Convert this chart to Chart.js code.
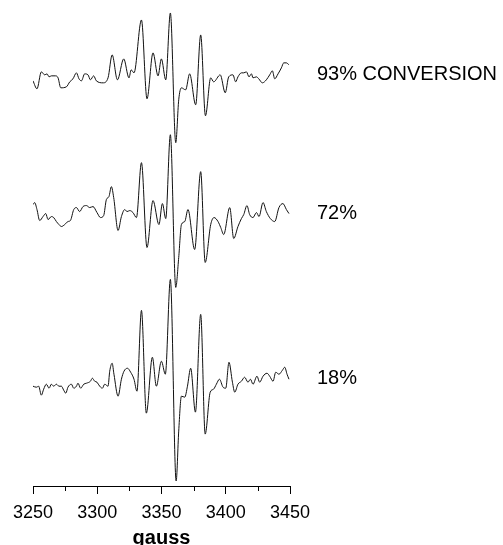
<!DOCTYPE html>
<html>
<head>
<meta charset="utf-8">
<script src="https://cdn.jsdelivr.net/npm/chart.js@4"></script>
<style>
  html, body { margin: 0; padding: 0; background: #fff; overflow: hidden; }
  #wrap { width: 503px; height: 545px; overflow: hidden; }
</style>
</head>
<body>
<div id="wrap"><canvas id="epr" width="503" height="552"></canvas></div>
<script>
// field axis (gauss)
const xTicksMajor = [3250, 3300, 3350, 3400, 3450];
const xTicksMinor = [3275, 3325, 3375, 3425];

// 93% conversion trace
const topGauss = [3250,3253.1,3256.5,3259.1,3260.9,3262.5,3264.3,3267.4,3269.5,3271.6,3276,3278.6,3281.1,3283.8,3285.8,3287.7,3290.2,3292.8,3294.7,3297.2,3299.3,3304.5,3308.4,3311.6,3315.7,3320.6,3324.7,3326.4,3328.6,3334.4,3338.7,3343.4,3347.3,3349.9,3353.3,3356.9,3361.1,3363.4,3365.5,3368.8,3371.9,3376.6,3380.5,3384.2,3388.3,3390.6,3395.7,3399.6,3402.3,3405.6,3407.7,3409.5,3412.2,3414,3416.1,3418.1,3420,3421.2,3423.9,3425.7,3428.5,3431.6,3434.2,3436.3,3438.1,3440.7,3443.3,3445.1,3447.2,3449.2];
const topSignal = [-3,-11,6,3,4,1,2,2,0,-10,-9,-4,-1,5,-1,-3,4,3,-2,2,-3,-5,0,23,-2,19,0,8,5,58,-21,25,2,19,-2,65,-65,-22,-10,-12,4,-27,43,-38,0,-4,3,-15,1,3,-4,1,5,5,6,1,4,0,1,-1,-5,-2,3,7,-1,4,10,15,15,13];

// 72% trace
const midGauss = [3250,3251.3,3253.1,3255.2,3257.8,3259.9,3261.7,3264.3,3266.1,3268.2,3270.2,3272.1,3274.7,3277.2,3279.1,3281.7,3283.8,3286.3,3288.9,3291.6,3294.1,3296.7,3299.8,3302.5,3305,3307.1,3309.1,3311,3312.8,3316.2,3318.8,3321.4,3323.2,3325.3,3327.8,3330.5,3334.4,3338.7,3343.4,3348,3350.7,3353.3,3356.9,3361.1,3363.4,3365.5,3368.1,3370.6,3375.8,3380.5,3384,3388.3,3390.9,3394,3396.1,3398.4,3403.1,3406.2,3409.5,3412.2,3414,3416.5,3418.6,3421.2,3423.9,3425.9,3429,3431.6,3434.7,3438.1,3441.4,3444.5,3447.2,3449.2];
const midSignal = [8,10,3,-8,-4,-1,-7,-4,-5,-9,-12,-14,-12,-9,-8,3,5,1,6,7,5,6,0,-5,-3,13,16,26,15,-18,-4,3,1,2,0,-5,50,-35,12,-12,9,-6,78,-75,-45,-12,-9,3,-37,41,-50,-12,-5,-9,-15,-22,5,-26,-14,-6,-2,7,-2,-5,0,-4,10,1,-6,-9,5,9,3,-1];

// 18% trace
const botGauss = [3250,3252.6,3254.4,3256.5,3258.3,3260.4,3262.5,3264.3,3266.1,3268.2,3270.2,3272.1,3273.9,3275.5,3277.2,3279.9,3281.7,3283.8,3285,3287.1,3289.5,3291.6,3294.7,3296.2,3298,3299.8,3301.9,3304,3305.8,3308.4,3309.7,3311.6,3313,3316.2,3318.8,3320.8,3323.5,3326,3328.6,3330.9,3334.4,3338.2,3342.9,3346,3349.9,3353,3356.9,3361.4,3363.4,3365.5,3368.1,3370.2,3372.7,3376.4,3380.5,3384,3387.9,3390.5,3392.7,3395.1,3397.9,3400,3402.5,3405.2,3407,3409.5,3412.2,3414.7,3417.3,3419.2,3421.2,3424.3,3426.4,3429,3432.1,3434.2,3436.8,3438.9,3441.4,3444.1,3445.9,3447.7,3449.2];
const botSignal = [-1,-2,-1,-10,-4,1,-3,1,-1,1,-1,-1,-5,-8,-2,1,-3,-1,2,-3,1,2,4,7,4,3,-1,-3,1,-1,14,22,11,-11,6,14,17,13,6,-6,75,-28,28,-1,24,11,106,-96,-46,-11,-12,-1,17,-27,71,-49,-7,-4,1,6,-2,-3,23,3,-7,1,4,8,3,6,1,9,3,9,12,9,4,13,11,15,18,11,6];

// stacking offsets (arbitrary intensity units) and trace labels
const traceLabels = ["93% CONVERSION", "72%", "18%"];
const traceOffsets = [409, 274, 101];
const labelLevels = [412, 273, 108];

function toPoints(gauss, signal, offset) {
  return gauss.map((g, i) => ({ x: g, y: signal[i] + offset }));
}

const traces = [
  toPoints(topGauss, topSignal, traceOffsets[0]),
  toPoints(midGauss, midSignal, traceOffsets[1]),
  toPoints(botGauss, botSignal, traceOffsets[2])
];

const sideLabels = {
  id: "sideLabels",
  afterDraw(chart) {
    const { ctx, chartArea, scales } = chart;
    ctx.save();
    ctx.fillStyle = "#000";
    ctx.font = "20px 'Liberation Sans', Arial, sans-serif";
    ctx.textBaseline = "middle";
    ctx.textAlign = "left";
    traceLabels.forEach((t, i) => {
      ctx.fillText(t, chartArea.right + 27, scales.y.getPixelForValue(labelLevels[i]));
    });
    // minor ticks on the field axis
    ctx.strokeStyle = "#000";
    ctx.lineWidth = 1;
    ctx.beginPath();
    xTicksMinor.forEach(v => {
      const px = Math.round(scales.x.getPixelForValue(v)) + 0.5;
      ctx.moveTo(px, chartArea.bottom);
      ctx.lineTo(px, chartArea.bottom + 5);
    });
    ctx.stroke();
    ctx.restore();
  }
};

new Chart(document.getElementById("epr"), {
  type: "line",
  data: {
    datasets: traces.map((pts, i) => ({
      label: traceLabels[i],
      data: pts,
      borderColor: "#111",
      borderWidth: 1,
      pointRadius: 0,
      cubicInterpolationMode: "monotone",
      fill: false
    }))
  },
  options: {
    responsive: false,
    animation: false,
    layout: { padding: { left: 33, right: 213, top: 0, bottom: 0 } },
    plugins: { legend: { display: false }, tooltip: { enabled: false } },
    scales: {
      x: {
        type: "linear",
        min: 3250,
        max: 3450,
        afterBuildTicks: scale => { scale.ticks = xTicksMajor.map(v => ({ value: v })); },
        border: { display: true, color: "#000", width: 1 },
        grid: { display: true, drawOnChartArea: false, drawTicks: true, tickLength: 8, tickColor: "#000", tickWidth: 1 },
        ticks: {
          maxRotation: 0,
          padding: 10,
          color: "#000",
          callback: v => String(v),
          font: { family: "'Liberation Sans', Arial, sans-serif", size: 18, lineHeight: 1 }
        },
        title: {
          display: true,
          text: "gauss",
          color: "#000",
          padding: { top: -4, bottom: 4 },
          font: { family: "'Liberation Sans', Arial, sans-serif", size: 20, weight: "bold", lineHeight: 1 }
        }
      },
      y: { display: false, min: 0, max: 487 }
    }
  },
  plugins: [sideLabels]
});
</script>
</body>
</html>
